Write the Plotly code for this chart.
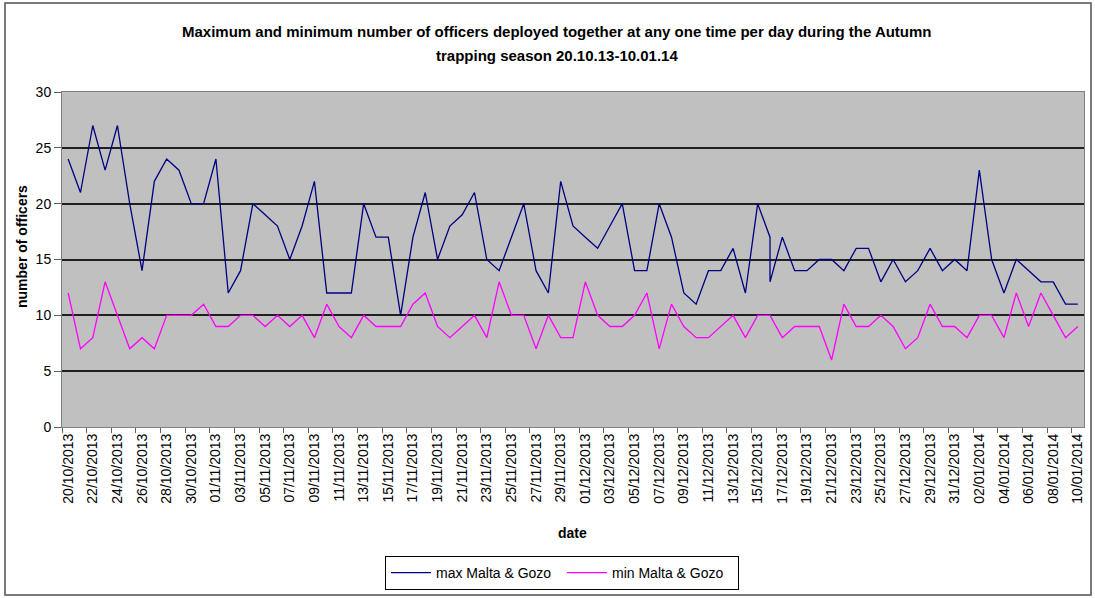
import plotly.graph_objects as go

dates = [
    "2013-10-20", "2013-10-21", "2013-10-22", "2013-10-23", "2013-10-24", "2013-10-25",
    "2013-10-26", "2013-10-27", "2013-10-28", "2013-10-29", "2013-10-30", "2013-10-31",
    "2013-11-01", "2013-11-02", "2013-11-03", "2013-11-04", "2013-11-05", "2013-11-06",
    "2013-11-07", "2013-11-08", "2013-11-09", "2013-11-10", "2013-11-11", "2013-11-12",
    "2013-11-13", "2013-11-14", "2013-11-15", "2013-11-16", "2013-11-17", "2013-11-18",
    "2013-11-19", "2013-11-20", "2013-11-21", "2013-11-22", "2013-11-23", "2013-11-24",
    "2013-11-25", "2013-11-26", "2013-11-27", "2013-11-28", "2013-11-29", "2013-11-30",
    "2013-12-01", "2013-12-02", "2013-12-03", "2013-12-04", "2013-12-05", "2013-12-06",
    "2013-12-07", "2013-12-08", "2013-12-09", "2013-12-10", "2013-12-11", "2013-12-12",
    "2013-12-13", "2013-12-14", "2013-12-15", "2013-12-16", "2013-12-16", "2013-12-17",
    "2013-12-18", "2013-12-19", "2013-12-20", "2013-12-21", "2013-12-22", "2013-12-23",
    "2013-12-24", "2013-12-25", "2013-12-26", "2013-12-27", "2013-12-28", "2013-12-29",
    "2013-12-30", "2013-12-31", "2014-01-01", "2014-01-02", "2014-01-03", "2014-01-04",
    "2014-01-05", "2014-01-06", "2014-01-07", "2014-01-08", "2014-01-09", "2014-01-10",
]

max_malta_gozo = [
    24, 21, 27, 23, 27, 20, 14, 22, 24, 23, 20, 20,
    24, 12, 14, 20, 19, 18, 15, 18, 22, 12, 12, 12,
    20, 17, 17, 10, 17, 21, 15, 18, 19, 21, 15, 14,
    17, 20, 14, 12, 22, 18,
    17, 16, 18, 20, 14, 14, 20, 17, 12, 11, 14, 14,
    16, 12, 20, 17, 13, 17, 14, 14, 15, 15, 14, 16,
    16, 13, 15, 13, 14, 16, 14, 15,
    14, 23, 15, 12, 15, 14, 13, 13, 11, 11,
]

min_malta_gozo = [
    12, 7, 8, 13, 10, 7, 8, 7, 10, 10, 10, 11,
    9, 9, 10, 10, 9, 10, 9, 10, 8, 11, 9, 8,
    10, 9, 9, 9, 11, 12, 9, 8, 9, 10, 8, 13,
    10, 10, 7, 10, 8, 8,
    13, 10, 9, 9, 10, 12, 7, 11, 9, 8, 8, 9,
    10, 8, 10, 10, 10, 8, 9, 9, 9, 6, 11, 9,
    9, 10, 9, 7, 8, 11, 9, 9,
    8, 10, 10, 8, 12, 9, 12, 10, 8, 9,
]

title_lines = [
    "Maximum and minimum number of officers deployed together at any one time per day during the Autumn",
    "trapping season 20.10.13-10.01.14",
]

FONT = "Arial, Liberation Sans, sans-serif"
DAY2 = 2 * 86400000

fig = go.Figure()
fig.add_trace(go.Scatter(x=dates, y=max_malta_gozo, mode="lines", name="max Malta & Gozo",
                         line=dict(color="#000080", width=1.3)))
fig.add_trace(go.Scatter(x=dates, y=min_malta_gozo, mode="lines", name="min Malta & Gozo",
                         line=dict(color="#FF00FF", width=1.3)))

L, R, T, B = 62, 11, 92, 171
W, H = 1095, 598
pw, ph = W - L - R, H - T - B


def px(x):
    return (x - L) / pw


def py(y):
    return (H - B - y) / ph


fig.update_layout(
    width=W, height=H,
    margin=dict(l=L, r=R, t=T, b=B, autoexpand=False),
    paper_bgcolor="white",
    plot_bgcolor="#C0C0C0",
    font=dict(family=FONT, size=13, color="black"),
    showlegend=True,
    legend=dict(orientation="h", x=px(562), xanchor="center", y=py(556), yanchor="top",
                bordercolor="black", borderwidth=1, bgcolor="white",
                font=dict(family=FONT, size=14), entrywidth=121, itemwidth=40,
                tracegroupgap=0),
    xaxis=dict(
        type="date",
        range=["2013-10-19 12:00", "2014-01-10 12:00"],
        tickmode="linear", tick0="2013-10-20", dtick=DAY2,
        tickformat="%d/%m/%Y", tickangle=-90,
        ticks="", showgrid=False, zeroline=False,
        showline=True, linecolor="#808080", linewidth=1, mirror=True,
        tickfont=dict(family=FONT, size=14, color="black"),
        minor=dict(tick0="2013-10-19 12:00", dtick=DAY2, ticks="outside", ticklen=5,
                   tickcolor="#606060", showgrid=False),
    ),
    yaxis=dict(
        range=[0, 30], tickmode="linear", tick0=0, dtick=5,
        ticks="outside", ticklen=7, tickcolor="#606060",
        showgrid=False, zeroline=False,
        showline=True, linecolor="#808080", linewidth=1, mirror=True,
        tickfont=dict(family=FONT, size=14, color="black"),
        minor=dict(tickvals=[5, 10, 15, 20, 25], ticks="", showgrid=True,
                   gridcolor="#202020", gridwidth=1.6),
    ),
    annotations=[
        dict(text="<b>" + title_lines[0] + "</b>", xref="paper", yref="paper",
             x=px(557), y=py(32), xanchor="center", yanchor="middle", showarrow=False,
             font=dict(family=FONT, size=15)),
        dict(text="<b>" + title_lines[1] + "</b>", xref="paper", yref="paper",
             x=px(557), y=py(55), xanchor="center", yanchor="middle", showarrow=False,
             font=dict(family=FONT, size=15)),
        dict(text="<b>date</b>", xref="paper", yref="paper", x=px(572), y=py(533),
             xanchor="center", yanchor="middle", showarrow=False,
             font=dict(family=FONT, size=14)),
        dict(text="<b>number of officers</b>", xref="paper", yref="paper", x=px(22), y=py(247),
             xanchor="center", yanchor="middle", showarrow=False, textangle=-90,
             font=dict(family=FONT, size=14)),
    ],
    shapes=[
        dict(type="rect", xref="paper", yref="paper", x0=px(5), x1=px(1091), y0=py(595), y1=py(3),
             line=dict(color="#505050", width=1.5), fillcolor="rgba(0,0,0,0)", layer="below"),
    ],
)

fig.write_html("out.html", config={"displayModeBar": False},
               post_script="document.body.style.margin='0';document.body.style.padding='0';")
